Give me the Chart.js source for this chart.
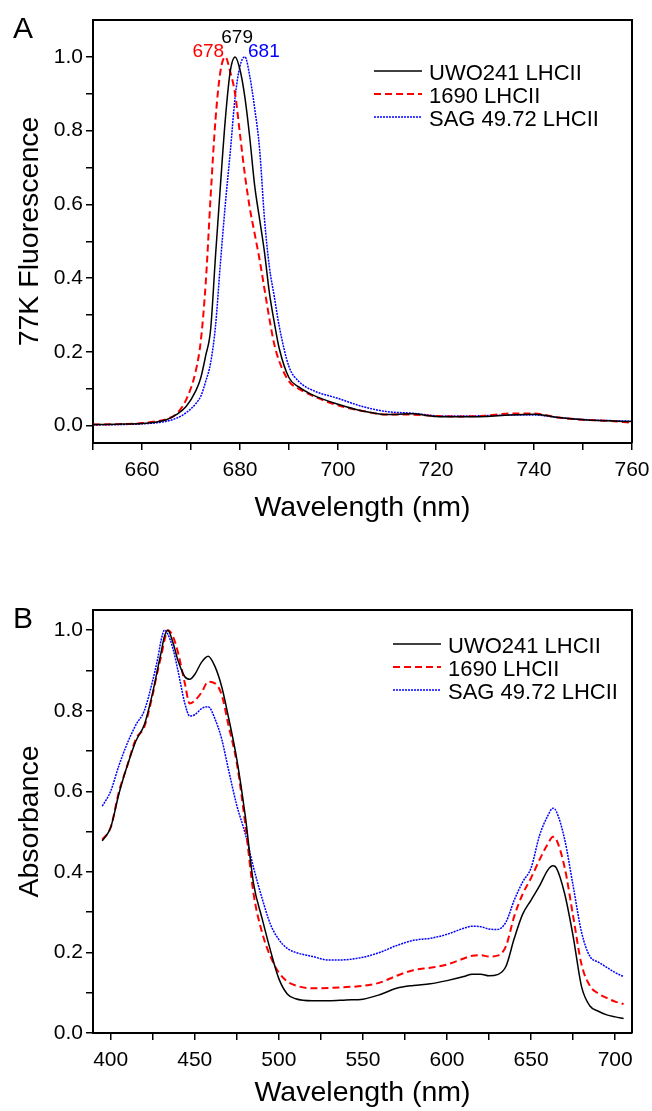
<!DOCTYPE html>
<html>
<head>
<meta charset="utf-8">
<script src="https://cdn.jsdelivr.net/npm/chart.js@4.4.1/dist/chart.umd.min.js"></script>
<style>
  body { margin: 0; background: #fff; }
  .panel { position: absolute; left: 0; }
  #panelA { top: 0; }
  #panelB { top: 555px; }
</style>
</head>
<body>
<div class="panel" id="panelA"><canvas id="fluorChart" width="652" height="555"></canvas></div>
<div class="panel" id="panelB"><canvas id="absChart" width="652" height="556"></canvas></div>
<script>
// Series names
const seriesNames = ["UWO241 LHCII", "1690 LHCII", "SAG 49.72 LHCII"];

// Panel A - 77K fluorescence
const fluorWl = [650, 655, 660, 663, 665, 667, 669, 671, 672, 673, 674, 675, 676, 677, 678, 679, 680, 681, 682, 683, 684, 685, 686, 687, 688, 690, 692, 695, 700, 705, 710, 715, 720, 725, 730, 735, 740, 745, 750, 755, 760];
const fluorUwo = [0.003, 0.004, 0.006, 0.010, 0.016, 0.030, 0.052, 0.095, 0.13, 0.19, 0.26, 0.46, 0.65, 0.83, 0.96, 1.0, 0.965, 0.89, 0.78, 0.65, 0.56, 0.47, 0.36, 0.28, 0.21, 0.13, 0.105, 0.082, 0.058, 0.04, 0.03, 0.032, 0.025, 0.024, 0.025, 0.029, 0.031, 0.022, 0.016, 0.013, 0.011];
const fluor1690 = [0.003, 0.004, 0.007, 0.012, 0.018, 0.032, 0.07, 0.15, 0.23, 0.386, 0.62, 0.83, 0.96, 1.0, 0.96, 0.90, 0.79, 0.68, 0.59, 0.52, 0.45, 0.37, 0.29, 0.22, 0.175, 0.12, 0.10, 0.08, 0.055, 0.04, 0.03, 0.03, 0.026, 0.025, 0.027, 0.033, 0.033, 0.022, 0.016, 0.013, 0.008];
const fluorSag = [0.002, 0.003, 0.005, 0.008, 0.012, 0.02, 0.035, 0.06, 0.08, 0.12, 0.17, 0.27, 0.44, 0.6, 0.74, 0.89, 0.975, 1.0, 0.947, 0.86, 0.75, 0.56, 0.43, 0.35, 0.27, 0.16, 0.12, 0.095, 0.074, 0.052, 0.038, 0.034, 0.027, 0.026, 0.027, 0.029, 0.029, 0.022, 0.017, 0.014, 0.012];
const fluorXTicks = [650, 660, 670, 680, 690, 700, 710, 720, 730, 740, 750, 760];
const fluorXLabels = [660, 680, 700, 720, 740, 760];
const fluorYTicks = [0, 0.1, 0.2, 0.3, 0.4, 0.5, 0.6, 0.7, 0.8, 0.9, 1.0];
const fluorYLabels = [0, 0.2, 0.4, 0.6, 0.8, 1.0];
const peakLabels = ["679", "678", "681"];

// Panel B - absorbance
const absWl = [395, 400, 405, 410, 415, 420, 425, 428, 430, 432, 434, 437, 440, 444, 447, 450, 454, 458, 462, 466, 470, 475, 480, 485, 490, 495, 500, 505, 510, 520, 530, 540, 550, 560, 570, 580, 590, 600, 610, 615, 620, 625, 630, 635, 640, 645, 650, 655, 660, 663, 665, 670, 675, 680, 685, 690, 695, 700, 705];
const absUwo = [0.477, 0.51, 0.595, 0.665, 0.725, 0.765, 0.845, 0.905, 0.945, 0.985, 1.0, 0.97, 0.925, 0.885, 0.878, 0.89, 0.92, 0.935, 0.91, 0.86, 0.785, 0.68, 0.54, 0.37, 0.285, 0.205, 0.135, 0.097, 0.085, 0.08, 0.08, 0.082, 0.084, 0.095, 0.111, 0.118, 0.122, 0.13, 0.14, 0.146, 0.146, 0.142, 0.145, 0.165, 0.235, 0.295, 0.33, 0.365, 0.405, 0.415, 0.41, 0.345, 0.24, 0.115, 0.067, 0.054, 0.045, 0.04, 0.036];
const abs1690 = [0.48, 0.51, 0.60, 0.665, 0.73, 0.76, 0.84, 0.9, 0.935, 0.975, 1.0, 0.985, 0.945, 0.87, 0.818, 0.825, 0.845, 0.872, 0.868, 0.84, 0.765, 0.67, 0.52, 0.345, 0.25, 0.19, 0.15, 0.128, 0.118, 0.111, 0.112, 0.114, 0.117, 0.125, 0.142, 0.156, 0.162, 0.17, 0.185, 0.192, 0.193, 0.19, 0.192, 0.215, 0.29, 0.345, 0.385, 0.43, 0.47, 0.487, 0.48, 0.41, 0.29, 0.17, 0.117, 0.098, 0.087, 0.078, 0.072];
const absSag = [0.563, 0.6, 0.665, 0.72, 0.765, 0.8, 0.875, 0.93, 0.975, 1.0, 0.99, 0.955, 0.9, 0.82, 0.787, 0.79, 0.805, 0.81, 0.78, 0.73, 0.655, 0.565, 0.495, 0.41, 0.335, 0.27, 0.232, 0.21, 0.2, 0.19, 0.181, 0.182, 0.188, 0.2, 0.217, 0.23, 0.235, 0.245, 0.26, 0.265, 0.264, 0.258, 0.257, 0.275, 0.33, 0.375, 0.41, 0.49, 0.54, 0.558, 0.55, 0.48, 0.365, 0.25, 0.19, 0.176, 0.163, 0.15, 0.14];
const absXTicks = [400, 425, 450, 475, 500, 525, 550, 575, 600, 625, 650, 675, 700];
const absXLabels = [400, 450, 500, 550, 600, 650, 700];
const absYTicks = [0, 0.1, 0.2, 0.3, 0.4, 0.5, 0.6, 0.7, 0.8, 0.9, 1.0];
const absYLabels = [0, 0.2, 0.4, 0.6, 0.8, 1.0];

const FONT = "'Liberation Sans', Arial, Helvetica, sans-serif";
const colors = ["#000000", "#ff0000", "#0000ff"];
const dashes = [[], [7, 4], [2, 1]];
const widths = [1.5, 2, 1.5];

function makeDatasets(wl, lists) {
  return lists.map((vals, i) => ({
    label: seriesNames[i],
    data: wl.map((w, j) => ({ x: w, y: vals[j] })),
    borderColor: colors[i],
    borderDash: dashes[i],
    borderWidth: widths[i],
    pointRadius: 0,
    fill: false,
    cubicInterpolationMode: "monotone"
  }));
}

function hasLabel(list, v) {
  return list.some(l => Math.abs(l - v) < 1e-6);
}

function axis(min, max, tickVals, labelVals, fmt, fitSize, horizontal) {
  return {
    type: "linear",
    min: min,
    max: max,
    afterBuildTicks: s => { s.ticks = tickVals.map(v => ({ value: v })); },
    afterFit: s => {
      if (horizontal) s.height = fitSize; else s.width = fitSize;
      // keep edge labels from pushing the plot area in
      s.paddingLeft = 0; s.paddingRight = 0; s.paddingTop = 0; s.paddingBottom = 0;
    },
    ticks: {
      autoSkip: false,
      maxRotation: 0,
      color: "#000",
      padding: horizontal ? 8 : 3,
      font: { family: FONT, size: 21 },
      callback: v => hasLabel(labelVals, v) ? fmt(v) : ""
    },
    grid: { display: true, drawOnChartArea: false, drawTicks: true, tickLength: 7, color: "#000", lineWidth: 1.5 },
    border: { display: true, color: "#000", width: 2 }
  };
}

// Frame, legend, titles and labels
const decor = {
  id: "decor",
  afterDraw(chart, args, o) {
    const ctx = chart.ctx;
    const a = chart.chartArea;
    ctx.save();
    // top and right frame
    ctx.strokeStyle = "#000";
    ctx.lineWidth = 2;
    ctx.beginPath();
    ctx.moveTo(a.left, a.top);
    ctx.lineTo(a.right, a.top);
    ctx.lineTo(a.right, a.bottom);
    ctx.stroke();

    // legend
    chart.data.datasets.forEach((ds, i) => {
      const y = a.top + o.legendTop + i * o.legendGap;
      const x0 = a.right - o.legendRight;
      ctx.strokeStyle = ds.borderColor;
      ctx.lineWidth = ds.borderWidth;
      ctx.setLineDash(ds.borderDash);
      ctx.beginPath();
      ctx.moveTo(x0, y);
      ctx.lineTo(x0 + 48, y);
      ctx.stroke();
      ctx.setLineDash([]);
      ctx.fillStyle = "#000";
      ctx.font = "22px " + FONT;
      ctx.textAlign = "left";
      ctx.textBaseline = "middle";
      ctx.fillText(ds.label, x0 + 55, y + 3);
    });

    // axis titles
    ctx.fillStyle = "#000";
    ctx.font = "28.5px " + FONT;
    ctx.textAlign = "center";
    ctx.textBaseline = "middle";
    ctx.fillText(o.xTitle, (a.left + a.right) / 2, a.bottom + o.xTitleOffset);
    ctx.save();
    ctx.translate(30, (a.top + a.bottom) / 2);
    ctx.rotate(-Math.PI / 2);
    ctx.fillText(o.yTitle, 0, 0);
    ctx.restore();

    // panel letter
    ctx.font = "30px " + FONT;
    ctx.textAlign = "left";
    ctx.fillText(o.letter, 13, a.top + 10);

    // peak labels
    if (o.peaks) {
      const xs = chart.scales.x, ys = chart.scales.y;
      ctx.font = "19px " + FONT;
      ctx.textAlign = "center";
      chart.data.datasets.forEach((ds, i) => {
        let best = ds.data[0];
        ds.data.forEach(p => { if (p.y > best.y) best = p; });
        ctx.fillStyle = ds.borderColor;
        ctx.fillText(o.peaks[i], xs.getPixelForValue(best.x) + o.peakDx[i], ys.getPixelForValue(best.y) - o.peakDy[i]);
      });
    }
    ctx.restore();
  }
};

const fmt1 = v => v.toFixed(1);
const fmt0 = v => String(v);

new Chart(document.getElementById("fluorChart"), {
  type: "line",
  data: { datasets: makeDatasets(fluorWl, [fluorUwo, fluor1690, fluorSag]) },
  options: {
    responsive: false,
    animation: false,
    layout: { padding: { top: 20, right: 20, left: 0, bottom: 0 } },
    plugins: {
      legend: { display: false },
      tooltip: { enabled: false },
      decor: {
        legendTop: 51, legendGap: 23, legendRight: 258,
        xTitle: "Wavelength (nm)", xTitleOffset: 65,
        yTitle: "77K Fluorescence", letter: "A",
        peaks: peakLabels, peakDx: [2, -17, 19], peakDy: [19, 5, 5]
      }
    },
    scales: {
      x: axis(650, 760, fluorXTicks, fluorXLabels, fmt0, 112, true),
      y: axis(-0.047, 1.1, fluorYTicks, fluorYLabels, fmt1, 93, false)
    }
  },
  plugins: [decor]
});

new Chart(document.getElementById("absChart"), {
  type: "line",
  data: { datasets: makeDatasets(absWl, [absUwo, abs1690, absSag]) },
  options: {
    responsive: false,
    animation: false,
    layout: { padding: { top: 55, right: 20, left: 0, bottom: 0 } },
    plugins: {
      legend: { display: false },
      tooltip: { enabled: false },
      decor: {
        legendTop: 34, legendGap: 23, legendRight: 239,
        xTitle: "Wavelength (nm)", xTitleOffset: 60,
        yTitle: "Absorbance", letter: "B"
      }
    },
    scales: {
      x: axis(389.5, 710, absXTicks, absXLabels, fmt0, 78, true),
      y: axis(0, 1.05, absYTicks, absYLabels, fmt1, 93, false)
    }
  },
  plugins: [decor]
});
</script>
</body>
</html>
